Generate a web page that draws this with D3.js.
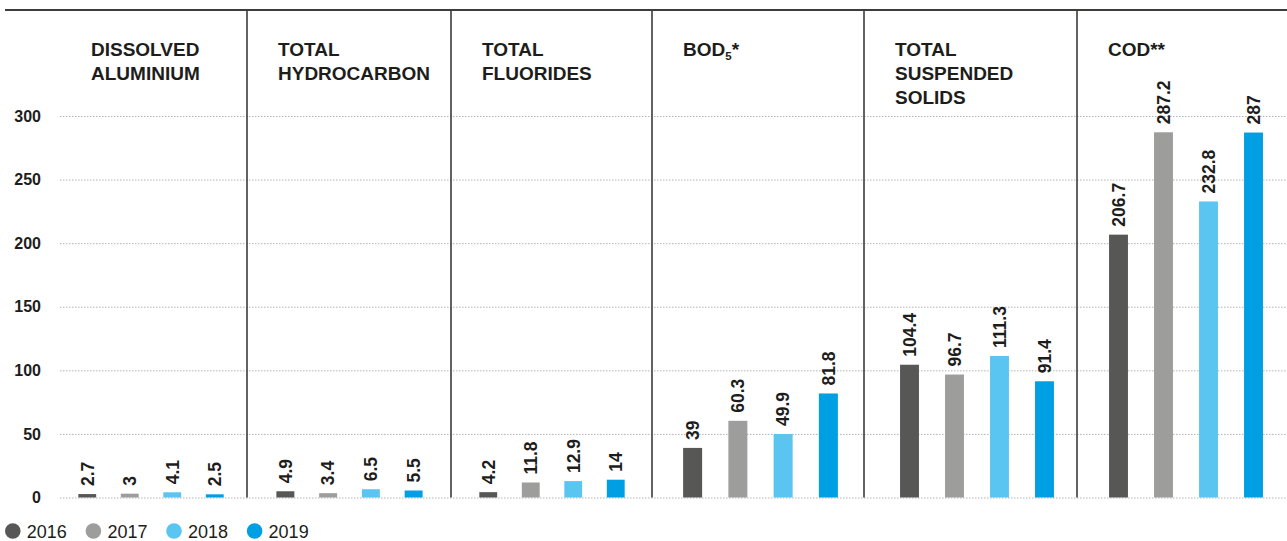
<!DOCTYPE html>
<html>
<head>
<meta charset="utf-8">
<script src="https://cdn.jsdelivr.net/npm/d3@7"></script>
<style>
  html, body { margin: 0; padding: 0; background: #fff; }
  svg { display: block; font-family: "Liberation Sans", Arial, Helvetica, sans-serif; }
</style>
</head>
<body>
<svg id="chart" width="1287" height="541"></svg>
<script>
// ---- data ----
const years = ["2016", "2017", "2018", "2019"];
const categories = ["DISSOLVED ALUMINIUM", "TOTAL HYDROCARBON", "TOTAL FLUORIDES", "BOD5*", "TOTAL SUSPENDED SOLIDS", "COD**"];
const titleLines = [
  ["DISSOLVED", "ALUMINIUM"],
  ["TOTAL", "HYDROCARBON"],
  ["TOTAL", "FLUORIDES"],
  ["BOD5*"],
  ["TOTAL", "SUSPENDED", "SOLIDS"],
  ["COD**"]
];
const values2016 = [2.7, 4.9, 4.2, 39, 104.4, 206.7];
const values2017 = [3, 3.4, 11.8, 60.3, 96.7, 287.2];
const values2018 = [4.1, 6.5, 12.9, 49.9, 111.3, 232.8];
const values2019 = [2.5, 5.5, 14, 81.8, 91.4, 287];
const yTicks = [0, 50, 100, 150, 200, 250, 300];
const colors = ["#575756", "#9d9d9c", "#5bc5f2", "#009fe3"];

// ---- layout ----
const W = 1287, H = 541;
const panelEdges = [60, 247, 451, 652, 864, 1077, 1287];
const barRanges = [[66, 236], [264, 435], [467, 637], [670, 851], [887, 1067], [1096, 1276]];
const plotTop = 10, y0 = 497.5, y300 = 116;
const textColor = "#1d1d1b";

const series = [values2016, values2017, values2018, values2019];
const svg = d3.select("#chart");

const y = d3.scaleLinear().domain([0, 300]).range([y0, y300]);

// gridlines
svg.append("g")
  .attr("transform", `translate(${panelEdges[0]},0)`)
  .call(d3.axisLeft(y).tickValues(yTicks).tickSize(-(W - panelEdges[0])).tickFormat(""))
  .call(g => g.select(".domain").remove())
  .call(g => g.selectAll("line")
    .attr("stroke", "#b4b4b4")
    .attr("stroke-width", 1)
    .attr("stroke-dasharray", "1.5,1.5"));

// y labels
svg.append("g")
  .attr("transform", `translate(${panelEdges[0]},0)`)
  .call(d3.axisLeft(y).tickValues(yTicks).tickSize(0).tickPadding(19))
  .call(g => g.select(".domain").remove())
  .call(g => g.selectAll("text")
    .attr("fill", textColor)
    .attr("font-size", 16)
    .attr("font-weight", "bold")
    .attr("font-family", "'Liberation Sans', Arial, sans-serif"));

// top rule
svg.append("line")
  .attr("x1", 5).attr("x2", W)
  .attr("y1", plotTop).attr("y2", plotTop)
  .attr("stroke", "#3c3c3b").attr("stroke-width", 2);

// dividers
svg.append("g").selectAll("line")
  .data(panelEdges.slice(1, -1))
  .join("line")
  .attr("x1", d => d).attr("x2", d => d)
  .attr("y1", plotTop).attr("y2", y(0))
  .attr("stroke", "#3c3c3b").attr("stroke-width", 1.6);

// panels
categories.forEach((cat, i) => {
  const x = d3.scaleBand().domain(years).range(barRanges[i]).paddingInner(0.58).paddingOuter(0.29);
  const g = svg.append("g");
  const rows = years.map((yr, k) => ({ yr, k, v: series[k][i] }));

  g.selectAll("rect")
    .data(rows)
    .join("rect")
    .attr("x", d => x(d.yr))
    .attr("width", x.bandwidth())
    .attr("y", d => y(d.v))
    .attr("height", d => y(0) - y(d.v))
    .attr("fill", d => colors[d.k]);

  g.selectAll("text.val")
    .data(rows)
    .join("text")
    .attr("class", "val")
    .attr("transform", d => `translate(${x(d.yr) + x.bandwidth() / 2},${y(d.v) - 8}) rotate(-90)`)
    .attr("dy", "0.36em")
    .attr("fill", textColor)
    .attr("font-size", 17.5)
    .attr("font-weight", "bold")
    .text(d => String(d.v));

  // title
  const tx = panelEdges[i] + 31;
  const t = svg.append("text")
    .attr("x", tx).attr("y", 56)
    .attr("fill", textColor)
    .attr("font-size", 19)
    .attr("font-weight", "bold");
  titleLines[i].forEach((line, li) => {
    if (line === "BOD5*") {
      const ts = t.append("tspan").attr("x", tx).attr("y", 56 + li * 24);
      ts.append("tspan").text("BOD");
      ts.append("tspan").attr("font-size", 11.5).attr("dy", 4).text("5");
      ts.append("tspan").attr("dy", -4).text("*");
    } else {
      t.append("tspan").attr("x", tx).attr("y", 56 + li * 24).text(line);
    }
  });
});

// legend
const legend = svg.append("g").attr("transform", "translate(12.8,531)");
const items = legend.selectAll("g")
  .data(years)
  .join("g")
  .attr("transform", (d, k) => `translate(${k * 80.6},0)`);
items.append("circle").attr("r", 7.8).attr("fill", (d, k) => colors[k]);
items.append("text")
  .attr("x", 14).attr("y", 7)
  .attr("fill", textColor)
  .attr("font-size", 18)
  .text(d => d);
</script>
</body>
</html>
